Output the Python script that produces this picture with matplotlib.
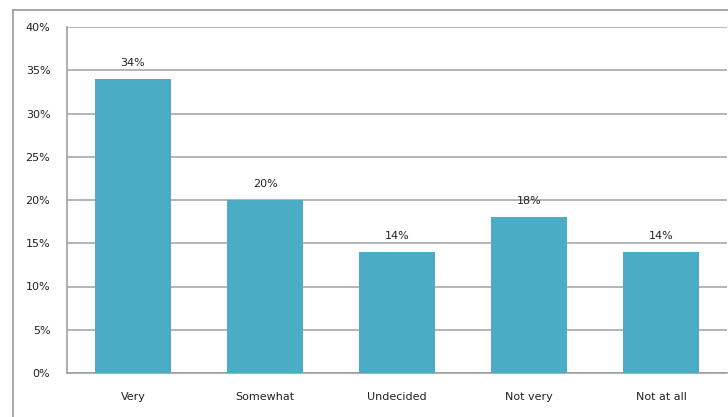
import matplotlib
matplotlib.use("Agg")
import matplotlib.pyplot as plt
from matplotlib.lines import Line2D
from matplotlib.ticker import FuncFormatter, MultipleLocator

categories = ["Very", "Somewhat", "Undecided", "Not very", "Not at all"]
shares = [34, 20, 14, 18, 14]
labels = ["34%", "20%", "14%", "18%", "14%"]

W, H = 728, 417
fig = plt.figure(figsize=(W / 100, H / 100), dpi=100)
fig.patch.set_facecolor("white")

# chart-area frame (left and top edges visible)
frame_color = "#9a9a9a"
fig.add_artist(Line2D([13 / W, 13 / W], [0, (H - 10) / H], transform=fig.transFigure,
                      color=frame_color, lw=1.2))
fig.add_artist(Line2D([13 / W, 1], [(H - 10) / H, (H - 10) / H], transform=fig.transFigure,
                      color=frame_color, lw=1.2))

ax = fig.add_axes([67 / W, (H - 373) / H, (727 - 67) / W, (373 - 27) / H])
x = range(len(categories))
ax.bar(x, shares, width=0.57, color="#4bacc6", zorder=3)
for xi, v, lab in zip(x, shares, labels):
    ax.annotate(lab, (xi, v), xytext=(0, 8), textcoords="offset points",
                ha="center", va="bottom", fontsize=8, color="#222222")

ax.set_xlim(-0.5, len(categories) - 0.5)
ax.set_ylim(0, 40)
ax.yaxis.set_major_locator(MultipleLocator(5))
ax.yaxis.set_major_formatter(FuncFormatter(lambda v, p: f"{v:.0f}%"))
ax.grid(axis="y", color="#a0a0a0", lw=1.1, zorder=0)
ax.set_xticks(list(x))
ax.set_xticklabels(categories)
ax.tick_params(axis="both", length=0, labelsize=8, colors="#222222")
ax.tick_params(axis="x", pad=14)
ax.tick_params(axis="y", pad=12)
for side in ["top", "right"]:
    ax.spines[side].set_visible(False)
ax.spines["left"].set_color("#a0a0a0")
ax.spines["bottom"].set_color("#a0a0a0")
ax.spines["left"].set_linewidth(1.2)
ax.spines["bottom"].set_linewidth(1.2)

fig.savefig("out.png", dpi=100)
